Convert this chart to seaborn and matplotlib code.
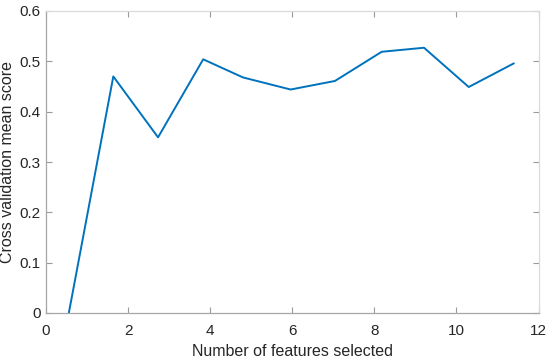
import matplotlib
matplotlib.use("Agg")
import matplotlib.pyplot as plt
import seaborn as sns
import pandas as pd

n_features = [0.556, 1.64, 2.73, 3.83, 4.80, 5.96, 7.04, 8.18, 9.21, 10.30, 11.40]
mean_score = [0.0, 0.470, 0.349, 0.504, 0.468, 0.444, 0.461, 0.519, 0.527, 0.449, 0.496]
x_ticks = [0, 2, 4, 6, 8, 10, 12]
y_ticks = [0, 0.1, 0.2, 0.3, 0.4, 0.5, 0.6]
y_tick_labels = ["0", "0.1", "0.2", "0.3", "0.4", "0.5", "0.6"]

sns.set_style("white")
plt.rcParams['font.family'] = ['Liberation Sans', 'DejaVu Sans']

df = pd.DataFrame({"x": n_features, "y": mean_score})

fig = plt.figure(figsize=(5.5, 3.6), dpi=100)
ax = fig.add_axes([46/550, 1 - 313/360, (538.5-46)/550, (313-11)/360])
sns.lineplot(data=df, x="x", y="y", ax=ax, color="#0072BD", linewidth=1.4, sort=False)

ax.set_xlim(0, 12)
ax.set_ylim(0, 0.6)
ax.set_xticks(x_ticks)
ax.set_xticklabels([str(t) for t in x_ticks])
ax.set_yticks(y_ticks)
ax.set_yticklabels(y_tick_labels)

txt = "#262626"
ax.tick_params(axis="both", which="both", direction="in", length=4, width=0.8,
               color="#9a9a9a", labelcolor=txt, labelsize=11, top=True, right=True,
               bottom=True, left=True)
ax.tick_params(axis="x", pad=8)
ax.tick_params(axis="y", pad=4)
for s in ["left", "bottom"]:
    ax.spines[s].set_color("#a6a6a6")
    ax.spines[s].set_linewidth(0.9)
for s in ["top", "right"]:
    ax.spines[s].set_color("#dadada")
    ax.spines[s].set_linewidth(0.9)

ax.set_xlabel("Number of features selected", fontsize=11.5, color=txt, labelpad=4)
ax.set_ylabel("Cross validation mean score", fontsize=11.5, color=txt, labelpad=3)

fig.savefig("out.png", dpi=100)
